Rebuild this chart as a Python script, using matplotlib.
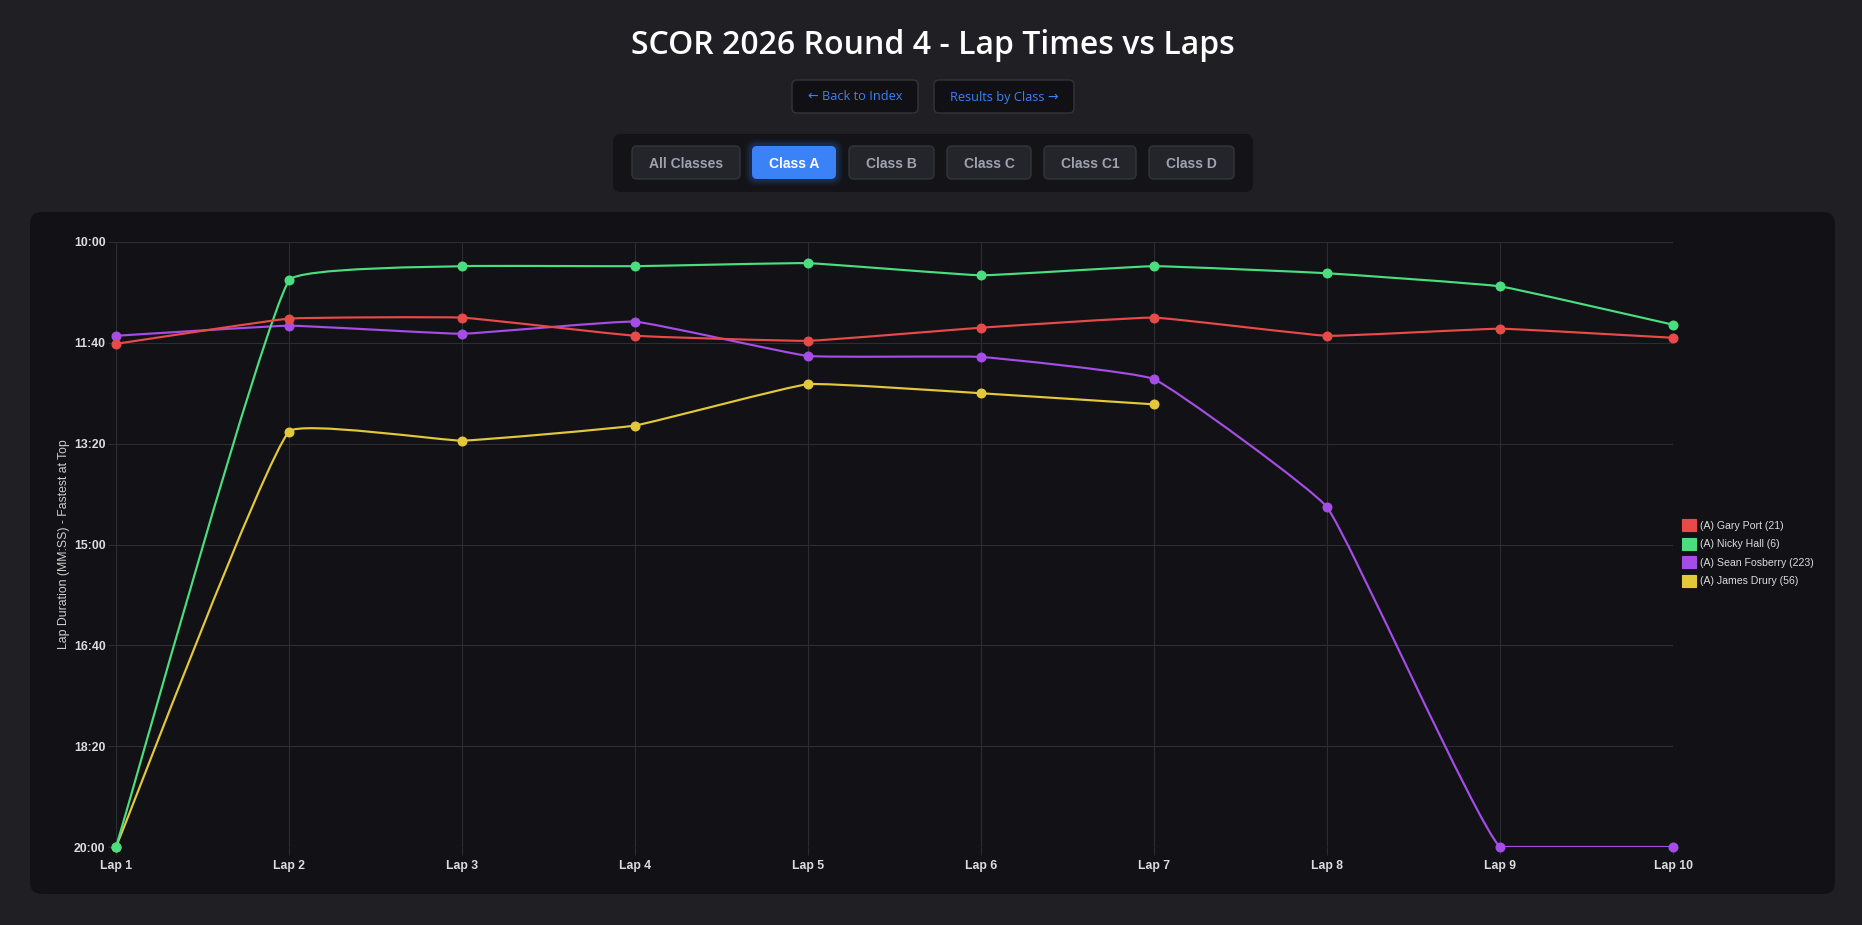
import numpy as np
import matplotlib
matplotlib.use('Agg')
import matplotlib.pyplot as plt
from matplotlib.path import Path
from matplotlib.patches import PathPatch, FancyBboxPatch, Patch


# ─── Dados ────────────────────────────────────────────────────────────────────

laps = ['Lap 1', 'Lap 2', 'Lap 3', 'Lap 4', 'Lap 5',
        'Lap 6', 'Lap 7', 'Lap 8', 'Lap 9', 'Lap 10']

drivers = ['(A) Gary Port (21)', '(A) Nicky Hall (6)',
           '(A) Sean Fosberry (223)', '(A) James Drury (56)']
colors = ['#e84a4a', '#4ade80', '#a54de6', '#e3c83c']

gary_port = ['11:41', '11:16', '11:15', '11:33', '11:38',
             '11:25', '11:15', '11:33', '11:26', '11:35']
nicky_hall = ['20:00', '10:38', '10:24', '10:24', '10:21',
              '10:33', '10:24', '10:31', '10:44', '11:22']
sean_fosberry = ['11:33', '11:23', '11:31', '11:19', '11:53',
                 '11:54', '12:16', '14:23', '20:00', '20:00']
james_drury = ['20:00', '13:08', '13:17', '13:02', '12:21', '12:30', '12:41']

y_ticks = ['10:00', '11:40', '13:20', '15:00', '16:40', '18:20', '20:00']

class_tabs = ['All Classes', 'Class A', 'Class B', 'Class C', 'Class C1', 'Class D']
active_tab = 'Class A'

PAGE_BG = '#1f1f24'
CARD_BG = '#121216'
GRID = '#2c2c33'

W, H = 1862, 925


def to_sec(s):
    m, ss = s.split(':')
    return int(m) * 60 + int(ss)


def spline_path(ax, xs, ys, tension=0.1):
    """Curva estilo Chart.js (bezier com tensão), calculada em pixels."""
    pts = ax.transData.transform(np.column_stack([xs, ys]))
    x0, y0 = ax.transData.transform((1, 600))
    x1, y1 = ax.transData.transform((10, 1200))
    lo_x, hi_x = min(x0, x1), max(x0, x1)
    lo_y, hi_y = min(y0, y1), max(y0, y1)
    n = len(pts)
    cp_prev, cp_next = [], []
    for i in range(n):
        prev = pts[max(i - 1, 0)]
        cur = pts[i]
        nxt = pts[min(i + 1, n - 1)]
        d01 = np.hypot(*(cur - prev))
        d12 = np.hypot(*(nxt - cur))
        tot = d01 + d12
        s01 = d01 / tot if tot else 0.0
        s12 = d12 / tot if tot else 0.0
        a = cur - tension * s01 * (nxt - prev)
        b = cur + tension * s12 * (nxt - prev)
        # limita pontos de controle à área do gráfico
        a = np.array([np.clip(a[0], lo_x, hi_x), np.clip(a[1], lo_y, hi_y)])
        b = np.array([np.clip(b[0], lo_x, hi_x), np.clip(b[1], lo_y, hi_y)])
        cp_prev.append(a)
        cp_next.append(b)
    verts = [pts[0]]
    codes = [Path.MOVETO]
    for i in range(n - 1):
        verts += [cp_next[i], cp_prev[i + 1], pts[i + 1]]
        codes += [Path.CURVE4] * 3
    verts = ax.transData.inverted().transform(np.array(verts))
    return Path(verts, codes)


# ─── Figura ───────────────────────────────────────────────────────────────────

fig = plt.figure(figsize=(W / 100, H / 100), dpi=100)
fig.patch.set_facecolor(PAGE_BG)

# camada de fundo em pixels (cartões, botões, título)
bg = fig.add_axes([0, 0, 1, 1], zorder=0)
bg.set_xlim(0, W)
bg.set_ylim(H, 0)
bg.axis('off')


def box(x0, y0, x1, y1, fc, ec='none', r=5, lw=1.0, **kw):
    p = FancyBboxPatch((x0 + r, y0 + r), x1 - x0 - 2 * r, y1 - y0 - 2 * r,
                       boxstyle=f'round,pad={r}', fc=fc, ec=ec, lw=lw, **kw)
    bg.add_patch(p)


ui_font = ['Open Sans', 'DejaVu Sans']
btn_font = ['Liberation Sans', 'DejaVu Sans']

bg.text(933, 46, 'SCOR 2026 Round 4 - Lap Times vs Laps', ha='center', va='center',
        fontsize=23, fontweight='semibold', color='#ffffff', family=ui_font)

box(792, 80, 918, 113, '#111115', ec='#34343b', r=5)
box(934, 80, 1074, 113, '#111115', ec='#34343b', r=5)
bg.text(855, 97, '← Back to Index', ha='center', va='center', fontsize=9.2,
        color='#3b82f6', family=ui_font)
bg.text(1004, 97, 'Results by Class →', ha='center', va='center', fontsize=9.2,
        color='#3b82f6', family=ui_font)

box(613, 134, 1253, 192, '#141418', r=8)
tab_x = [(632, 740), (752, 836), (849, 934), (947, 1031), (1044, 1136), (1149, 1234)]
for name, (xa, xb) in zip(class_tabs, tab_x):
    if name == active_tab:
        for g, al in [(7, 0.05), (5, 0.07), (3, 0.1)]:
            box(xa - g, 146 - g, xb + g, 179 + g, '#3b82f6', r=5 + g, alpha=al)
        box(xa, 146, xb, 179, '#3b82f6', r=5)
        tc = '#ffffff'
    else:
        box(xa, 146, xb, 179, '#24242b', ec='#34343c', r=5)
        tc = '#9ea3ad'
    bg.text((xa + xb) / 2, 164, name, ha='center', va='center', fontsize=10,
            fontweight='bold', color=tc, family=btn_font)

box(30, 212, 1835, 894, CARD_BG, r=12)

# ─── Gráfico ──────────────────────────────────────────────────────────────────

L, R, T, B = 116, 1673, 242, 847
ax = fig.add_axes([L / W, 1 - B / H, (R - L) / W, (B - T) / H], zorder=1)
ax.set_facecolor('none')
ax.set_xlim(1, 10)
ax.set_ylim(1200, 600)

x = np.arange(1, len(laps) + 1)
series = [gary_port, nicky_hall, sean_fosberry, james_drury]
# primeiro piloto fica por cima, como no Chart.js
for i, (vals, c) in enumerate(zip(series, colors)):
    ys = np.array([to_sec(v) for v in vals], dtype=float)
    xs = x[:len(ys)]
    z = 20 - 2 * i
    ax.add_patch(PathPatch(spline_path(ax, xs, ys), fc='none', ec=c, lw=1.55,
                           zorder=z, capstyle='round', joinstyle='round'))
    ax.plot(xs, ys, 'o', color=c, ms=6.2, mec=c, zorder=z + 1, clip_on=False)

ax.set_xticks(x)
ax.set_xticklabels(laps)
ax.set_yticks([to_sec(t) for t in y_ticks])
ax.set_yticklabels(y_ticks)
for lab in ax.get_xticklabels() + ax.get_yticklabels():
    lab.set_fontfamily(btn_font)
    lab.set_fontweight('bold')
ax.tick_params(axis='both', colors=GRID, labelcolor='#dcdcdc', labelsize=8.8,
               length=6, width=0.8)
ax.tick_params(axis='x', pad=3)
ax.tick_params(axis='y', pad=1.5)
ax.grid(True, color=GRID, lw=0.8, zorder=0)
ax.set_axisbelow(True)
for s in ax.spines.values():
    s.set_visible(False)

ax.set_ylabel('Lap Duration (MM:SS) - Fastest at Top', color='#cfcfcf',
              fontsize=8.8, family=btn_font)
ax.yaxis.set_label_coords(-0.0294, 0.5)

handles = [Patch(facecolor=c, edgecolor=c, lw=0.8) for c in colors]
leg = fig.legend(handles, drivers, loc='center left',
                 bbox_to_anchor=(1677 / W, 1 - 553 / H), frameon=False,
                 handlelength=1.3, handleheight=1.35,
                 handletextpad=0.4, labelspacing=0.63, borderpad=0,
                 prop={'family': btn_font, 'size': 7.6})
for t in leg.get_texts():
    t.set_color('#dcdcdc')

fig.savefig('out.png', dpi=100, facecolor=PAGE_BG)
